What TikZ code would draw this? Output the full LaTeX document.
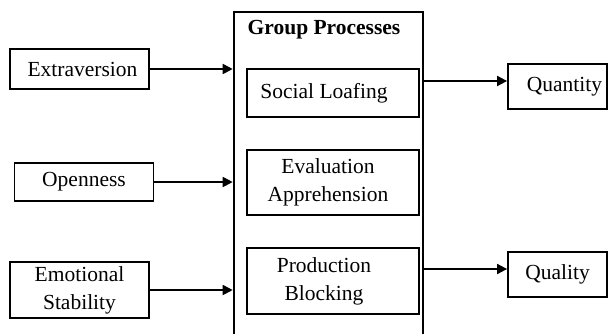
\documentclass[tikz,border=0pt]{standalone}
\usepackage{fontspec}
\setmainfont{Liberation Serif}
\usetikzlibrary{arrows.meta}

\begin{document}
\begin{tikzpicture}[
    x=0.5pt, y=-0.5pt,
    every node/.style={align=center, font=\fontsize{10.75}{14}\selectfont},
    trait/.style={rectangle, draw, line width=0.9pt, minimum width=69.5pt, inner sep=0pt},
    procBox/.style={rectangle, draw, line width=0.9pt, minimum width=86pt, inner sep=0pt},
    outcome/.style={rectangle, draw, line width=0.9pt, minimum width=49.5pt, minimum height=22.5pt, inner sep=0pt},
    groupBox/.style={rectangle, draw, line width=1.3pt, minimum width=94.5pt, minimum height=169pt, inner sep=0pt},
    arr/.style={-{Triangle[length=5pt,width=5pt]}, line width=0.9pt}
]
\useasboundingbox (0,0) rectangle (608,333);

% Nodes
\node[groupBox] (group) at (328.5, 181) {};
\node[font=\fontsize{10.75}{14}\selectfont\bfseries] (title) at (324, 30) {Group Processes};

\node[trait, minimum height=20pt] (extra) at (79.5, 69) {\hspace*{3pt}Extraversion};
\node[trait, minimum height=19pt] (open) at (84, 182) {Openness};
\node[trait, minimum height=28pt] (emot) at (79.5, 290) {Emotional\\Stability};

\node[procBox, minimum height=24pt] (social) at (333, 93) {};
\node[procBox, minimum height=32.5pt] (eval) at (333, 182.5) {};
\node[procBox, minimum height=33pt] (prod) at (333, 281) {};
\node[xshift=-4.5pt] (socialTxt) at (social) {Social Loafing};
\node[xshift=-2.5pt] (evalTxt) at (eval) {Evaluation\\Apprehension};
\node[xshift=-4.5pt] (prodTxt) at (prod) {Production\\Blocking};

\node[outcome] (quant) at (557.5, 86.5) {\hspace*{7pt}Quantity};
\node[outcome] (qual) at (557.5, 274.5) {Quality};
\coordinate (quantIn) at ([yshift=2.75pt]quant.west);
\coordinate (qualIn) at ([yshift=2.75pt]qual.west);

% Arrows
\draw[arr] (extra.east) -- (group.west |- extra.east);
\draw[arr] (open.east) -- (group.west |- open.east);
\draw[arr] (emot.east) -- (group.west |- emot.east);
\draw[arr] (group.east |- quantIn) -- (quantIn);
\draw[arr] (group.east |- qualIn) -- (qualIn);

\end{tikzpicture}
\end{document}
